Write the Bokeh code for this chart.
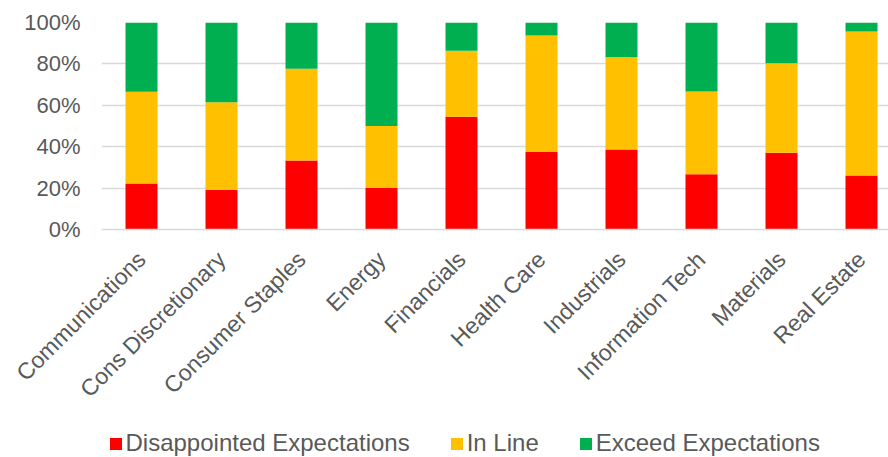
from bokeh.plotting import figure
from bokeh.layouts import column
from bokeh.models import (ColumnDataSource, Range1d, FixedTicker,
                          NumeralTickFormatter, Legend, LegendItem)
from bokeh.embed import file_html
from bokeh.resources import INLINE
import math

# Share of companies per sector by earnings outcome
sectors = ["Communications", "Cons Discretionary", "Consumer Staples", "Energy",
           "Financials", "Health Care", "Industrials", "Information Tech",
           "Materials", "Real Estate"]
disappointed = [0.222, 0.192, 0.333, 0.200, 0.545, 0.375, 0.386, 0.267, 0.371, 0.261]
in_line      = [0.444, 0.423, 0.444, 0.300, 0.318, 0.5625, 0.446, 0.400, 0.432, 0.696]
exceed       = [0.334, 0.385, 0.223, 0.500, 0.137, 0.0625, 0.168, 0.333, 0.197, 0.043]

series_names = ["Disappointed Expectations", "In Line", "Exceed Expectations"]
series_keys = ["disappointed", "in_line", "exceed"]
colors = ["#FF0000", "#FFC000", "#00B050"]
positions = list(range(len(sectors)))

source = ColumnDataSource(dict(x=positions, disappointed=disappointed,
                               in_line=in_line, exceed=exceed))

FONT = "Liberation Sans"
TEXT = "#595959"
GRID = "#D9D9D9"

p = figure(width=888, height=429, output_backend="svg", toolbar_location=None,
           x_range=Range1d(-0.5, 9.3375), y_range=Range1d(0, 1),
           min_border_left=101, min_border_right=0,
           min_border_top=22, min_border_bottom=200)
p.outline_line_color = None
p.background_fill_color = "white"
p.border_fill_color = "white"

p.vbar_stack(series_keys, x="x", width=0.4, color=colors,
             source=source, line_color=None)

# y axis: percentages with light horizontal grid
p.yaxis.ticker = FixedTicker(ticks=[0, 0.2, 0.4, 0.6, 0.8, 1.0])
p.yaxis.formatter = NumeralTickFormatter(format="0%")
p.yaxis.axis_line_color = None
p.yaxis.major_tick_line_color = None
p.yaxis.major_tick_out = 0
p.yaxis.major_tick_in = 0
p.yaxis.minor_tick_line_color = None
p.yaxis.major_label_standoff = 21
p.yaxis.major_label_text_font = FONT
p.yaxis.major_label_text_font_size = "22px"
p.yaxis.major_label_text_color = TEXT
p.ygrid.grid_line_color = GRID
p.ygrid.grid_line_width = 1.5
p.xgrid.grid_line_color = None

# x axis: sector names at 45 degrees
p.xaxis.ticker = FixedTicker(ticks=positions)
p.xaxis.major_label_overrides = {i: s for i, s in zip(positions, sectors)}
p.xaxis.major_label_orientation = math.pi / 4
p.xaxis.axis_line_color = GRID
p.xaxis.axis_line_width = 1.5
p.xaxis.major_tick_line_color = None
p.xaxis.major_tick_out = 0
p.xaxis.major_tick_in = 0
p.xaxis.minor_tick_line_color = None
p.xaxis.major_label_standoff = 26
p.xaxis.major_label_text_font = FONT
p.xaxis.major_label_text_font_size = "23px"
p.xaxis.major_label_text_color = TEXT

# legend strip under the chart; the swatch renderers reuse the bar data,
# but the strip's y range sits above every value so only the legend shows
key = figure(width=888, height=28, output_backend="svg", toolbar_location=None,
             x_range=Range1d(-0.5, 9.3375), y_range=Range1d(2, 3),
             min_border=0)
key.axis.visible = False
key.grid.visible = False
key.outline_line_color = None
key.background_fill_color = "white"
key.border_fill_color = "white"
swatches = [key.vbar(x="x", top=k, width=0.4, source=source,
                     color=c, line_color=None)
            for k, c in zip(series_keys, colors)]

legend = Legend(items=[LegendItem(label=n, renderers=[r])
                       for n, r in zip(series_names, swatches)])
legend.orientation = "horizontal"
legend.location = (6.5, 0)
legend.padding = 0
legend.margin = 0
legend.spacing = 39
legend.border_line_color = None
legend.background_fill_alpha = 0
legend.glyph_width = 15
legend.glyph_height = 15
legend.label_standoff = 3
legend.label_height = 28
legend.label_text_font = FONT
legend.label_text_font_size = "24px"
legend.label_text_color = TEXT
key.add_layout(legend, "center")

open("out.html", "w").write(file_html(column(p, key, spacing=0), INLINE))
